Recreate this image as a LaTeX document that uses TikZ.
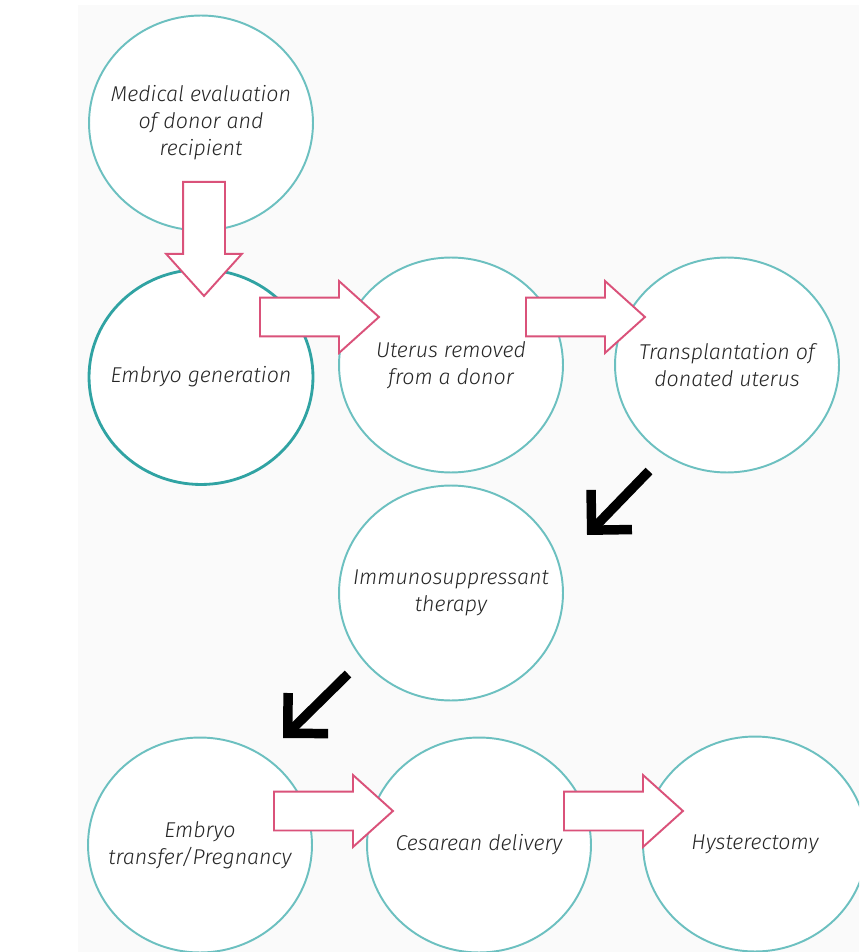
\documentclass[tikz,border=0pt]{standalone}
\usepackage{fontspec}
\newfontfamily\stagefont{Fira Sans Light}
\usetikzlibrary{shapes.geometric,shapes.arrows,arrows.meta}

\definecolor{ringteal}{RGB}{108,192,192}
\definecolor{ringdark}{RGB}{48,163,163}
\definecolor{arrowpink}{RGB}{218,82,122}
\definecolor{paper}{RGB}{250,250,250}

\begin{document}
\begin{tikzpicture}[x=0.02cm, y=-0.02cm,
        stage/.style={ellipse, draw=ringteal, line width=1.1pt, fill=white,
          minimum width=4.48cm, minimum height=4.3cm,
          inner xsep=-0.5cm, inner ysep=-0.3cm, align=center,
          font=\stagefont\itshape\fontsize{12.2}{15.4}\selectfont, text=black!85},
        flow/.style={single arrow, draw=arrowpink, line width=1.1pt, fill=white,
          minimum height=2.38cm, inner sep=0.37cm, anchor=tail,
          single arrow head extend=0.33cm, single arrow tip angle=84},
        turn/.style={line width=5.4pt,
          -{Straight Barb[length=0.57cm, width=1.14cm, line cap=butt, line join=miter]}}]
        \path[use as bounding box] (0,0) rectangle (859,952);
        \clip (0,0) rectangle (859,952);
        \fill[paper] (78,5) rectangle (859,952);

        % stages
        \node[stage] (evaluation) at (201,123) {Medical evaluation\\of donor and\\recipient};
        \node[stage, draw=ringdark, line width=1.6pt] (embryo) at (201,377) {Embryo generation};
        \node[stage] (removal) at (451,365) {Uterus removed\\from a donor};
        \node[stage] (transplant) at (727,365) {Transplantation of\\donated uterus};
        \node[stage] (immuno) at (451,593) {Immunosuppressant\\therapy};
        \node[stage] (transfer) at (200,845) {Embryo\\transfer/Pregnancy};
        \node[stage] (cesarean) at (479,845) {Cesarean delivery};
        \node[stage] (hysterectomy) at (755,844) {Hysterectomy};

        % block arrows
        \node[flow, rotate=-90, minimum height=2.28cm, inner sep=0.4cm,
          single arrow head extend=0.34cm] (flow1) at (204,181) {};
        \node[flow] (flow2) at (259,317) {};
        \node[flow] (flow3) at (525,317) {};
        \node[flow] (flow4) at (273,811) {};
        \node[flow] (flow5) at (563,811) {};

        % black arrows
        \coordinate (turn1-start) at (649,471);
        \coordinate (turn1-end) at (587,535);
        \coordinate (turn2-start) at (348,674);
        \coordinate (turn2-end) at (283,738);
        \draw[turn] (turn1-start) -- (turn1-end);
        \draw[turn] (turn2-start) -- (turn2-end);
      \end{tikzpicture}
\end{document}
